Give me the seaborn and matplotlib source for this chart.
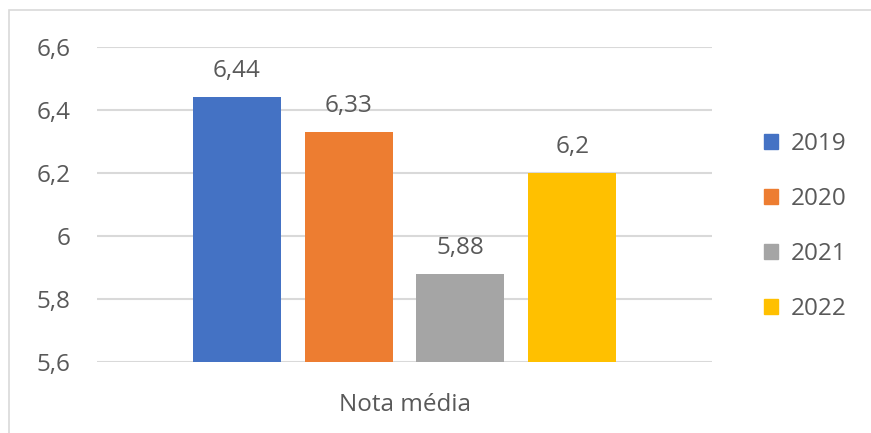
import matplotlib
matplotlib.use("Agg")
import matplotlib.pyplot as plt
import matplotlib.patches as mpatches
import seaborn as sns
import pandas as pd

categories = ["Nota média"]
years = ["2019", "2020", "2021", "2022"]
values = [6.44, 6.33, 5.88, 6.2]
colors = ["#4472C4", "#ED7D31", "#A5A5A5", "#FFC000"]
yticks = [5.6, 5.8, 6.0, 6.2, 6.4, 6.6]

df = pd.DataFrame({"cat": categories * len(years), "year": years, "val": values})

sns.set_theme(style="white")
plt.rcParams["font.family"] = ["Open Sans", "DejaVu Sans"]
txt = "#595959"
fs = 17.5

fig = plt.figure(figsize=(8.71, 4.33), dpi=100)
W, H = 871, 433
ax = fig.add_axes([97 / W, (H - 362) / H, 615 / W, 315 / H])

sns.barplot(data=df, x="cat", y="val", hue="year", palette=colors,
            width=0.728, gap=0.214, ax=ax, legend=False, saturation=1, linewidth=0)

ax.set_ylim(5.6, 6.6)
ax.set_xlim(-0.5, 0.5)
ax.set_yticks(yticks)
ax.set_yticklabels([("%g" % t).replace(".", ",") for t in yticks], fontsize=fs, color=txt)
ax.tick_params(axis="y", length=0, pad=19)
ax.tick_params(axis="x", length=0, pad=22, labelsize=fs, labelcolor=txt)
ax.set_xlabel("")
ax.set_ylabel("")
ax.grid(axis="y", color="#D9D9D9", linewidth=1.5)
ax.set_axisbelow(True)
for s in ax.spines.values():
    s.set_visible(False)

for cont in ax.containers:
    for bar in cont:
        h = bar.get_height()
        ax.text(bar.get_x() + bar.get_width() / 2, h + 0.045,
                ("%g" % h).replace(".", ","), ha="center", va="bottom",
                fontsize=fs, color=txt)

handles = [mpatches.Patch(color=c, label=y) for c, y in zip(colors, years)]
fig.legend(handles=handles, loc="upper left", bbox_to_anchor=(742 / W, 1 - 110 / H),
           frameon=False, fontsize=fs, labelcolor=txt, labelspacing=1.28,
           handlelength=0.6, handleheight=0.6, handletextpad=0.5)

fig.patches.append(mpatches.Rectangle((9 / W, -0.1), 1.2, 1 - 10 / H + 0.1,
                                      transform=fig.transFigure, fill=False,
                                      edgecolor="#D9D9D9", linewidth=1.2))

fig.savefig("out.png", dpi=100)
